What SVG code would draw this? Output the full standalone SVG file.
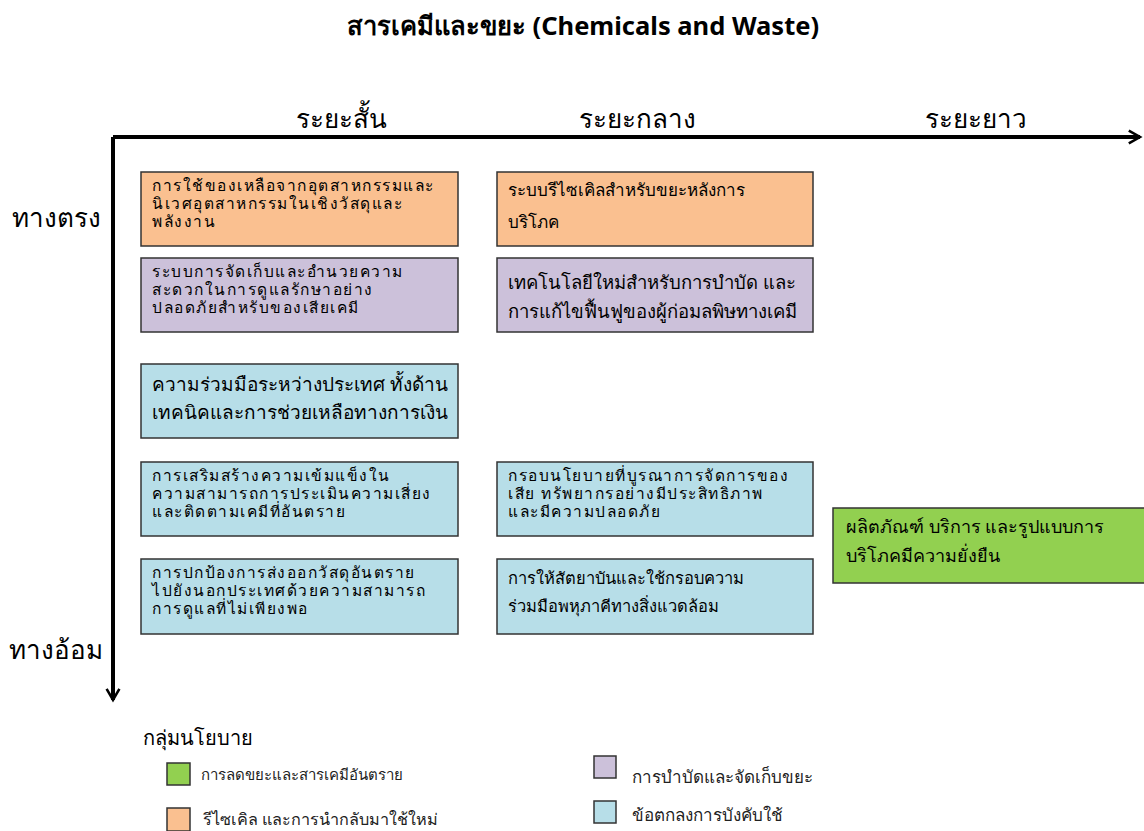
<svg xmlns="http://www.w3.org/2000/svg" width="1144" height="831" viewBox="0 0 1144 831">
  <style>
    text { font-family: "Noto Sans", "DejaVu Sans", sans-serif; fill: #000; }
    .title { font-size: 25.5px; font-weight: bold; }
    .axis { font-size: 26px; }
    .bt { font-size: 17px; }
    .b3 { font-size: 15.5px; letter-spacing: 1.5px; }
    .lg { font-size: 17px; fill: #222; }
    .box { stroke: #333; stroke-width: 1.5; }
    .orange { fill: #FAC090; }
    .purple { fill: #CCC1DA; }
    .blue { fill: #B7DEE8; }
    .green { fill: #92D050; }
    .ax { stroke: #000; stroke-width: 4; fill: none; }
  </style>
  <defs>
    <marker id="arrow" viewBox="0 0 10 10" refX="8" refY="5" markerWidth="4" markerHeight="4" orient="auto" markerUnits="strokeWidth">
      <path d="M1,1 L8,5 L1,9" fill="none" stroke="#000" stroke-width="1.6"/>
    </marker>
  </defs>
  <rect width="1144" height="831" fill="#fff"/>

  <text class="title" x="583" y="35" text-anchor="middle">สารเคมีและขยะ (Chemicals and Waste)</text>

  <!-- axes: time to the right, directness downward -->
  <g id="connectors">
    <path class="ax" d="M113,137 H1140" marker-end="url(#arrow)"/>
    <path class="ax" d="M113,137 V700" marker-end="url(#arrow)"/>
  </g>

  <g id="axis-labels">
    <text class="axis" x="341" y="128" text-anchor="middle">ระยะสั้น</text>
    <text class="axis" x="637" y="128" text-anchor="middle">ระยะกลาง</text>
    <text class="axis" x="976" y="128" text-anchor="middle">ระยะยาว</text>
    <text class="axis" x="56" y="227" text-anchor="middle">ทางตรง</text>
    <text class="axis" x="56" y="659" text-anchor="middle">ทางอ้อม</text>
  </g>

  <g id="n1">
    <rect class="box orange" x="141" y="172" width="317" height="74"/>
    <text class="b3" x="152" y="191">การใช้ของเหลือจากอุตสาหกรรมและ</text>
    <text class="b3" x="152" y="209">นิเวศอุตสาหกรรมในเชิงวัสดุและ</text>
    <text class="b3" x="152" y="227">พลังงาน</text>
  </g>
  <g id="n2">
    <rect class="box orange" x="497" y="172" width="316" height="74"/>
    <text class="bt" x="508" y="196">ระบบรีไซเคิลสำหรับขยะหลังการ</text>
    <text class="bt" x="508" y="228">บริโภค</text>
  </g>
  <g id="n3">
    <rect class="box purple" x="141" y="258" width="317" height="74"/>
    <text class="b3" x="152" y="277">ระบบการจัดเก็บและอำนวยความ</text>
    <text class="b3" x="152" y="295">สะดวกในการดูแลรักษาอย่าง</text>
    <text class="b3" x="152" y="313">ปลอดภัยสำหรับของเสียเคมี</text>
  </g>
  <g id="n4">
    <rect class="box purple" x="497" y="258" width="316" height="74"/>
    <text class="bt" x="508" y="289" style="font-size:18.5px">เทคโนโลยีใหม่สำหรับการบำบัด และ</text>
    <text class="bt" x="508" y="318" style="font-size:18.5px">การแก้ไขฟื้นฟูของผู้ก่อมลพิษทางเคมี</text>
  </g>
  <g id="n5">
    <rect class="box blue" x="141" y="364" width="317" height="74"/>
    <text class="bt" x="152" y="391" style="font-size:19px">ความร่วมมือระหว่างประเทศ ทั้งด้าน</text>
    <text class="bt" x="152" y="419" style="font-size:19px">เทคนิคและการช่วยเหลือทางการเงิน</text>
  </g>
  <g id="n6">
    <rect class="box blue" x="141" y="462" width="317" height="74"/>
    <text class="b3" x="152" y="481">การเสริมสร้างความเข้มแข็งใน</text>
    <text class="b3" x="152" y="499">ความสามารถการประเมินความเสี่ยง</text>
    <text class="b3" x="152" y="517">และติดตามเคมีที่อันตราย</text>
  </g>
  <g id="n7">
    <rect class="box blue" x="141" y="559" width="317" height="75"/>
    <text class="b3" x="152" y="578">การปกป้องการส่งออกวัสดุอันตราย</text>
    <text class="b3" x="152" y="596">ไปยังนอกประเทศด้วยความสามารถ</text>
    <text class="b3" x="152" y="614">การดูแลที่ไม่เพียงพอ</text>
  </g>
  <g id="n8">
    <rect class="box blue" x="497" y="462" width="316" height="74"/>
    <text class="b3" x="508" y="481">กรอบนโยบายที่บูรณาการจัดการของ</text>
    <text class="b3" x="508" y="499">เสีย ทรัพยากรอย่างมีประสิทธิภาพ</text>
    <text class="b3" x="508" y="517">และมีความปลอดภัย</text>
  </g>
  <g id="n9">
    <rect class="box blue" x="497" y="559" width="316" height="75"/>
    <text class="bt" x="508" y="584" style="font-size:16.5px">การให้สัตยาบันและใช้กรอบความ</text>
    <text class="bt" x="508" y="612" style="font-size:16.5px">ร่วมมือพหุภาคีทางสิ่งแวดล้อม</text>
  </g>
  <g id="n10">
    <rect class="box green" x="833" y="508" width="314" height="75"/>
    <text class="bt" x="846" y="533" style="font-size:18px">ผลิตภัณฑ์ บริการ และรูปแบบการ</text>
    <text class="bt" x="846" y="562" style="font-size:18px">บริโภคมีความยั่งยืน</text>
  </g>

  <g id="legend">
    <text x="143" y="745" style="font-size:20px">กลุ่มนโยบาย</text>
    <rect class="box green" x="167" y="763" width="23" height="22"/>
    <text class="lg" x="201" y="780" style="font-size:15px">การลดขยะและสารเคมีอันตราย</text>
    <rect class="box orange" x="167" y="808" width="23" height="23"/>
    <text class="lg" x="203" y="825" style="font-size:16.2px">รีไซเคิล และการนำกลับมาใช้ใหม่</text>
    <rect class="box purple" x="594" y="756" width="22" height="22"/>
    <text class="lg" x="632" y="783">การบำบัดและจัดเก็บขยะ</text>
    <rect class="box blue" x="594" y="801" width="22" height="22"/>
    <text class="lg" x="632" y="821">ข้อตกลงการบังคับใช้</text>
  </g>
</svg>
